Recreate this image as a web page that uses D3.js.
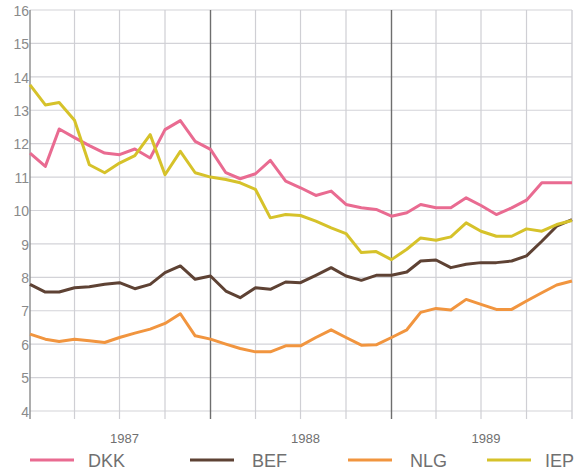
<!DOCTYPE html>
<html>
<head>
<script src="https://d3js.org/d3.v7.min.js"></script>
<style>
  body { margin: 0; background: white; }
  svg { display: block; }
</style>
</head>
<body>
<div id="chart"></div>
<script>
// monthly values, Jan 1987 .. Jan 1990
var startYear = 1987;
var DKK = [11.72, 11.32, 12.44, 12.18, 11.94, 11.72, 11.67, 11.84, 11.57, 12.42, 12.69, 12.07,
           11.83, 11.13, 10.95, 11.10, 11.50, 10.88, 10.68, 10.45, 10.58, 10.18, 10.08, 10.03,
           9.83, 9.93, 10.18, 10.08, 10.08, 10.38, 10.15, 9.88, 10.08, 10.31, 10.83, 10.83, 10.83];
var BEF = [7.79, 7.56, 7.56, 7.69, 7.72, 7.79, 7.84, 7.66, 7.79, 8.14, 8.34, 7.94,
           8.04, 7.59, 7.39, 7.69, 7.64, 7.86, 7.84, 8.06, 8.29, 8.04, 7.91, 8.06,
           8.06, 8.16, 8.49, 8.52, 8.29, 8.39, 8.44, 8.44, 8.49, 8.64, 9.08, 9.53, 9.73];
var NLG = [6.30, 6.15, 6.08, 6.15, 6.10, 6.05, 6.20, 6.33, 6.45, 6.62, 6.91, 6.25,
           6.15, 6.00, 5.87, 5.77, 5.77, 5.95, 5.95, 6.20, 6.43, 6.20, 5.97, 5.98,
           6.20, 6.43, 6.95, 7.07, 7.02, 7.34, 7.19, 7.04, 7.04, 7.29, 7.54, 7.77, 7.89];
var IEP = [13.76, 13.16, 13.23, 12.70, 11.37, 11.13, 11.42, 11.64, 12.27, 11.07, 11.77, 11.13,
           11.00, 10.93, 10.83, 10.63, 9.78, 9.88, 9.85, 9.68, 9.48, 9.31, 8.74, 8.77,
           8.53, 8.84, 9.18, 9.11, 9.21, 9.63, 9.38, 9.23, 9.23, 9.45, 9.38, 9.58, 9.70];
var yTicks = [4, 5, 6, 7, 8, 9, 10, 11, 12, 13, 14, 15, 16];
var years = [1987, 1988, 1989];

var series = [
  {name: "DKK", values: DKK, color: "#e96b91"},
  {name: "BEF", values: BEF, color: "#5e4234"},
  {name: "NLG", values: NLG, color: "#f1953f"},
  {name: "IEP", values: IEP, color: "#d6c22a"}
];

var W = 579, H = 472;
var plot = {left: 30, right: 572, top: 10, bottom: 411};

var svg = d3.select("#chart").append("svg")
    .attr("width", W)
    .attr("height", H);

var x = d3.scaleTime()
    .domain([new Date(startYear, 0, 1), new Date(startYear + 3, 0, 1)])
    .range([plot.left, plot.right]);
var y = d3.scaleLinear()
    .domain([4, 16])
    .range([plot.bottom, plot.top]);

// horizontal grid
svg.append("g").selectAll("line")
  .data(yTicks)
  .enter().append("line")
    .attr("x1", plot.left).attr("x2", plot.right)
    .attr("y1", function(d) { return y(d); })
    .attr("y2", function(d) { return y(d); })
    .attr("stroke", "#d3d3d8")
    .attr("stroke-width", 1.2);

// vertical grid at quarters, darker at year boundaries
var d0 = x.domain()[0], d1 = x.domain()[1];
var quarters = d3.timeMonth.every(3).range(d0, d3.timeDay.offset(d1, 1));
svg.append("g").selectAll("line")
  .data(quarters)
  .enter().append("line")
    .attr("x1", function(d) { return x(d); })
    .attr("x2", function(d) { return x(d); })
    .attr("y1", plot.top)
    .attr("y2", plot.bottom + 8)
    .attr("stroke", function(d) {
      if (+d == +d0) return "#8a8a8a";
      if (d.getMonth() == 0 && d < d1) return "#6e6e6e";
      return "#cfcfd4";
    })
    .attr("stroke-width", function(d) {
      return d.getMonth() == 0 ? 1.4 : 1.2;
    });

// y labels
svg.append("g").selectAll("text")
  .data(yTicks)
  .enter().append("text")
    .attr("x", plot.left - 1)
    .attr("y", function(d) { return y(d) + 2; })
    .attr("text-anchor", "end")
    .attr("dominant-baseline", "middle")
    .style("font-family", "Liberation Sans, Arial, sans-serif")
    .style("font-size", "14px")
    .style("fill", "#8a8a8a")
    .text(function(d) { return d; });

// year labels
svg.append("g").selectAll("text")
  .data(years)
  .enter().append("text")
    .attr("x", function(d) { return x(new Date(d, 6, 1)) + 5; })
    .attr("y", 440)
    .attr("text-anchor", "middle")
    .attr("dominant-baseline", "middle")
    .style("font-family", "Liberation Sans, Arial, sans-serif")
    .style("font-size", "13px")
    .style("fill", "#707070")
    .text(function(d) { return d; });

// lines
var line = d3.line()
    .x(function(d, i) { return x(new Date(startYear, i, 1)); })
    .y(function(d) { return y(d); });

svg.append("g").selectAll("path")
  .data(series)
  .enter().append("path")
    .attr("d", function(s) { return line(s.values); })
    .attr("fill", "none")
    .attr("stroke", function(s) { return s.color; })
    .attr("stroke-width", 3)
    .attr("stroke-linejoin", "round");

// legend
var legendX = [30, 190, 348, 487];
var lg = svg.append("g").selectAll("g")
  .data(series)
  .enter().append("g")
    .attr("transform", function(s, i) { return "translate(" + legendX[i] + ",460)"; });
lg.append("line")
    .attr("x1", 0).attr("x2", 44)
    .attr("stroke", function(s) { return s.color; })
    .attr("stroke-width", 3);
lg.append("text")
    .attr("x", function(s, i) { return i == 0 ? 58 : (i == 3 ? 58 : 62); })
    .attr("y", 2)
    .attr("dominant-baseline", "middle")
    .style("font-family", "Liberation Sans, Arial, sans-serif")
    .style("font-size", "18px")
    .style("fill", "#707070")
    .text(function(s) { return s.name; });
</script>
</body>
</html>
